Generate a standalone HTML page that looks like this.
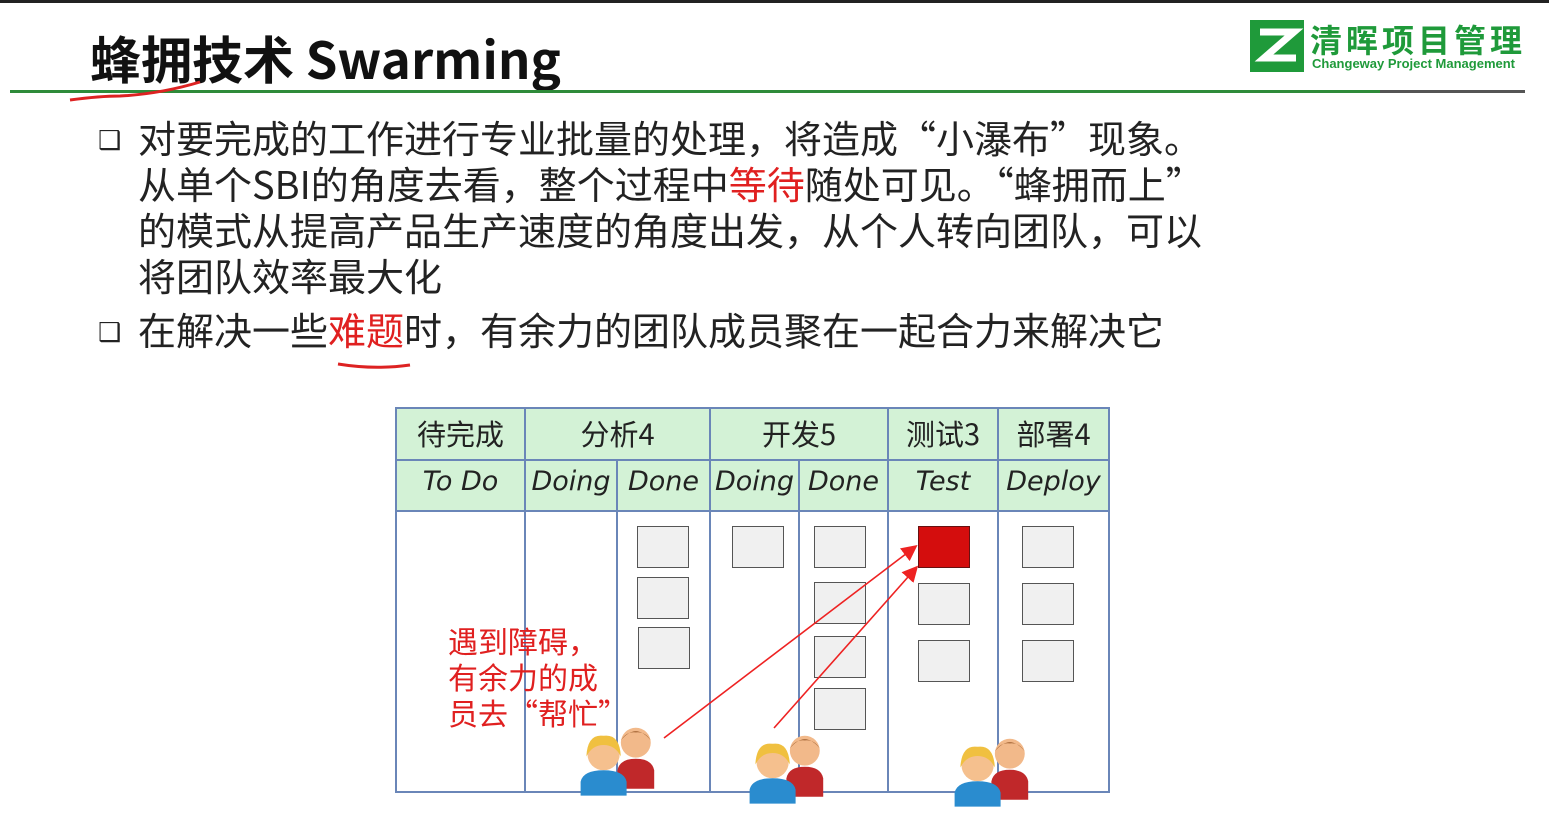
<!DOCTYPE html>
<html><head><meta charset="utf-8"><style>
body{margin:0;width:1549px;height:821px;background:#fff;position:relative;overflow:hidden;font-family:"Noto Sans CJK SC","Liberation Sans",sans-serif}
.a{position:absolute}
.t{font-size:38px;color:#222;line-height:46px;white-space:nowrap}
.r{color:#e02020}
.box{position:absolute;width:50px;height:40px;border:1.5px solid #555;background:#f0f0f0}
.h{position:absolute;text-align:center;font-size:29px;color:#222}
.hw{font-family:"Comic Sans MS","DejaVu Sans",sans-serif;font-style:italic;font-size:27px}
</style></head><body>
<div class="a" style="left:0;top:0;width:1549px;height:3px;background:#222"></div>
<div class="a" style="left:90px;top:22px;font-size:51px;font-weight:bold;color:#111;font-family:'Noto Sans CJK SC','Liberation Sans',sans-serif;line-height:70px">蜂拥技术 Swarming</div>
<div class="a" style="left:10px;top:90px;width:1370px;height:3px;background:#2e8b3a"></div>
<div class="a" style="left:1380px;top:90px;width:145px;height:3px;background:#555"></div>
<svg class="a" style="left:60px;top:76px" width="160" height="30"><path d="M10 24 Q40 20 60 20 Q100 18 140 6" stroke="#d22" stroke-width="3" fill="none"/></svg>
<svg class="a" style="left:1250px;top:20px" width="54" height="52"><rect width="54" height="52" fill="#1f9a3a"/><path d="M10 12 H44 L14 38 H46" stroke="#fff" stroke-width="7" fill="none"/></svg>
<div class="a" style="left:1310px;top:16px;font-size:32px;font-weight:bold;color:#1f9a3a;letter-spacing:4px">清晖项目管理</div>
<div class="a" style="left:1312px;top:56px;font-size:13px;font-weight:bold;color:#1f9a3a;font-family:'Liberation Sans',sans-serif">Changeway Project Management</div>
<div class="a t" style="left:98px;top:116px;font-size:26px">❑</div>
<div class="a t" style="left:98px;top:308px;font-size:26px">❑</div>
<div class="a t" style="left:138px;top:114px">对要完成的工作进行专业批量的处理，将造成“小瀑布”现象。<br>从单个SBI的角度去看，整个过程中<span class="r">等待</span>随处可见。“蜂拥而上”<br>的模式从提高产品生产速度的角度出发，从个人转向团队，可以<br>将团队效率最大化</div>
<div class="a t" style="left:138px;top:306px">在解决一些<span class="r">难题</span>时，有余力的团队成员聚在一起合力来解决它</div>
<svg class="a" style="left:335px;top:358px" width="80" height="14"><path d="M3 6 Q40 12 75 7" stroke="#d22" stroke-width="3" fill="none"/></svg>
<div class="a" style="left:396px;top:408px;width:713px;height:103px;background:#d3f2d6"></div>
<svg class="a" style="left:0;top:0" width="1549" height="821">
<g stroke="#6a86b8" stroke-width="2" fill="none">
<rect x="396" y="408" width="713" height="384"/>
<line x1="396" y1="460" x2="1109" y2="460"/><line x1="396" y1="511" x2="1109" y2="511"/>
<line x1="525" y1="408" x2="525" y2="792"/><line x1="710" y1="408" x2="710" y2="792"/>
<line x1="888" y1="408" x2="888" y2="792"/><line x1="998" y1="408" x2="998" y2="792"/>
<line x1="617" y1="460" x2="617" y2="792"/><line x1="799" y1="460" x2="799" y2="792"/>
</g></svg>
<div class="h" style="left:396px;top:412px;width:129px">待完成</div>
<div class="h" style="left:525px;top:412px;width:185px">分析4</div>
<div class="h" style="left:710px;top:412px;width:178px">开发5</div>
<div class="h" style="left:888px;top:412px;width:110px">测试3</div>
<div class="h" style="left:998px;top:412px;width:111px">部署4</div>
<div class="h hw" style="left:396px;top:466px;width:129px">To Do</div>
<div class="h hw" style="left:525px;top:466px;width:92px">Doing</div>
<div class="h hw" style="left:617px;top:466px;width:93px">Done</div>
<div class="h hw" style="left:710px;top:466px;width:89px">Doing</div>
<div class="h hw" style="left:799px;top:466px;width:89px">Done</div>
<div class="h hw" style="left:888px;top:466px;width:110px">Test</div>
<div class="h hw" style="left:998px;top:466px;width:111px">Deploy</div>
<div class="box" style="left:637px;top:526px"></div><div class="box" style="left:637px;top:577px"></div><div class="box" style="left:638px;top:627px"></div>
<div class="box" style="left:732px;top:526px"></div>
<div class="box" style="left:814px;top:526px"></div><div class="box" style="left:814px;top:582px"></div><div class="box" style="left:814px;top:636px"></div><div class="box" style="left:814px;top:688px"></div>
<div class="box" style="left:918px;top:526px;background:#d40d0d;border-color:#611"></div><div class="box" style="left:918px;top:583px"></div><div class="box" style="left:918px;top:640px"></div>
<div class="box" style="left:1022px;top:526px"></div><div class="box" style="left:1022px;top:583px"></div><div class="box" style="left:1022px;top:640px"></div>
<div class="a r" style="left:448px;top:622px;font-size:30px;line-height:36px;white-space:nowrap">遇到障碍，<br>有余力的成<br>员去“帮忙”</div>
<svg class="a" style="left:0;top:0" width="1549" height="821">
<defs><marker id="m" markerWidth="10" markerHeight="10" refX="8" refY="5" orient="auto"><path d="M0 0 L10 5 L0 10Z" fill="#e22"/></marker>
<g id="p"><circle cx="52" cy="18" r="13" fill="#f2b98a"/><path d="M39 16 Q52 0 65 16 Q60 8 52 9 Q44 8 39 16Z" fill="#9a5a2a"/><path d="M36 58 V42 Q38 32 52 32 Q66 32 68 42 V58Z" fill="#c0282a"/><circle cx="24" cy="28" r="14" fill="#f5c08e"/><path d="M9 30 Q10 10 24 12 Q38 10 39 30 Q34 20 24 20 Q14 20 9 30Z" fill="#f0c040"/><path d="M4 64 V52 Q6 42 24 42 Q42 42 44 52 V64Z" fill="#2a8ccf"/></g></defs>
<line x1="664" y1="738" x2="915" y2="547" stroke="#e22" stroke-width="1.6" marker-end="url(#m)"/>
<line x1="774" y1="728" x2="916" y2="568" stroke="#e22" stroke-width="1.6" marker-end="url(#m)"/>
<use href="#p" transform="translate(576,722) scale(1.15)"/><use href="#p" transform="translate(745,730) scale(1.15)"/><use href="#p" transform="translate(950,733) scale(1.15)"/>
</svg>
</body></html>
